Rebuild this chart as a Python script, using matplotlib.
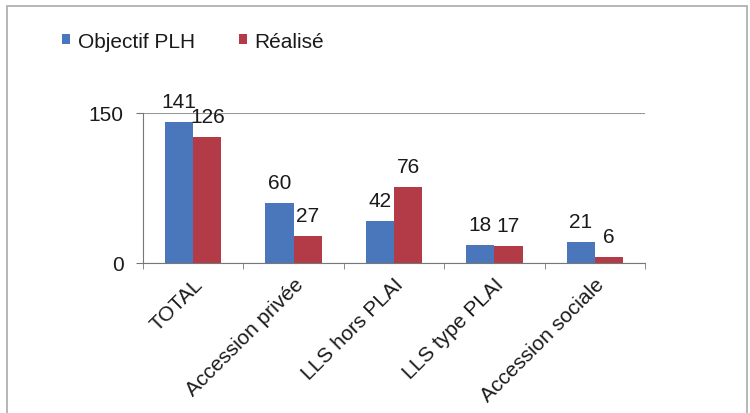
import matplotlib
matplotlib.use("Agg")
import matplotlib.pyplot as plt
import matplotlib.transforms as mtransforms
import numpy as np
from matplotlib.patches import Rectangle

categories = ["TOTAL", "Accession privée", "LLS hors PLAI", "LLS type PLAI", "Accession sociale"]
objectif = [141, 60, 42, 18, 21]
realise = [126, 27, 76, 17, 6]
series_names = ["Objectif PLH", "Réalisé"]
colors = ["#4A76BC", "#B23B47"]

plt.rcParams['font.family'] = ['Liberation Sans', 'DejaVu Sans']

W, H = 750, 414
fig = plt.figure(figsize=(W/100, H/100), dpi=100)
ax = fig.add_axes([143/W, 1-264/H, (645-143)/W, (264-114)/H])

x = np.arange(len(categories))
bw = 0.28
b1 = ax.bar(x - bw/2, objectif, bw, color=colors[0], label=series_names[0])
b2 = ax.bar(x + bw/2, realise, bw, color=colors[1], label=series_names[1])

fs = 15
tc = '#1a1a1a'
for bars, vals in ((b1, objectif), (b2, realise)):
    for rect, v in zip(bars, vals):
        ax.text(rect.get_x() + rect.get_width()/2, v + 11, str(v), ha='center', va='bottom',
                fontsize=fs, color=tc, clip_on=False)

ax.set_xlim(-0.5, len(categories) - 0.5)
ax.set_ylim(0, 150)
ax.set_yticks([0, 150])
ax.set_yticklabels(["0", "150"], fontsize=fs, color=tc)
ax.yaxis.grid(True, color='#999999', linewidth=0.8)
ax.set_axisbelow(True)
ax.set_xticks(x)
ax.set_xticklabels(categories, rotation=45, ha='right', rotation_mode='anchor',
                   fontsize=fs, color=tc)
shift = mtransforms.ScaledTranslation(-4/100, -2/100, fig.dpi_scale_trans)
for lbl in ax.get_xticklabels():
    lbl.set_transform(lbl.get_transform() + shift)
ax.set_xticks(np.arange(len(categories) + 1) - 0.5, minor=True)
ax.tick_params(axis='x', which='major', length=0, pad=8)
ax.tick_params(axis='x', which='minor', length=4, color='#777777', direction='out')
ax.tick_params(axis='y', length=5, color='#777777', pad=9)
for s in ['top', 'right']:
    ax.spines[s].set_visible(False)
ax.spines['left'].set_color('#777777')
ax.spines['bottom'].set_color('#777777')

leg = fig.legend(handles=[b1, b2], labels=series_names, loc='center left',
                 bbox_to_anchor=(62/W, 1-42/H), ncol=2, frameon=False, fontsize=fs,
                 handlelength=0.4, handleheight=0.4, handletextpad=0.35, columnspacing=2.1,
                 borderaxespad=0, borderpad=0)
for t in leg.get_texts():
    t.set_color(tc)

fig.patches.append(Rectangle((7/W, -0.1), (747-7)/W, 1-7/H + 0.1, transform=fig.transFigure,
                             fill=False, edgecolor='#AAAAAA', linewidth=1.2))

fig.savefig("out.png", dpi=100)
